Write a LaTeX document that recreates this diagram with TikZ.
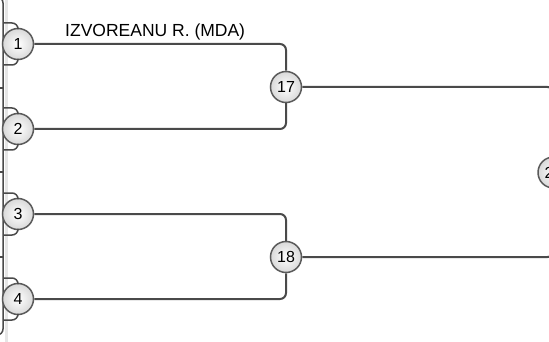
\documentclass[tikz,border=0pt]{standalone}
\usepackage{fontspec}
\setmainfont{Liberation Sans}
\usetikzlibrary{positioning}

\definecolor{wire}{HTML}{4A4A4A}
\definecolor{rim}{HTML}{5A5A5A}
\definecolor{band}{HTML}{E6E6E6}

\tikzset{
  seed/.style={circle, draw=rim, line width=1.5pt, minimum size=31pt, inner sep=0pt,
    inner color=white, outer color=gray!30, font=\fontsize{16}{16}\selectfont},
  wire/.style={draw=wire, line width=2pt, rounded corners=6pt},
  lbl/.style={font=\fontsize{17.5}{18}\selectfont, inner sep=0pt}
}

\begin{document}
\begin{tikzpicture}[x=1pt, y=-1pt]

    % --- Page frame ---
    \useasboundingbox (0,0) rectangle (549,342);
    \clip (0,0) rectangle (549,342);

    % Left strip of the previous column
    \fill[band] (5,0) rectangle (8,342);
    \draw[wire, line width=1.5pt] (-4,-3) -- (3,-3) -- (3,335) -- (-4,335);
    \draw[wire, line width=1.2pt] (0,88) -- (3,88);
    \draw[wire, line width=1.2pt] (0,172) -- (3,172);
    \draw[wire, line width=1.2pt] (0,257) -- (3,257);

    % --- Define Coordinates ---
    % First round (left column)
    \node[seed] (r1) at (18,44) {1};
    \node[seed] (r2) at (18,129) {2};
    \node[seed] (r3) at (18,214) {3};
    \node[seed] (r4) at (18,299) {4};

    % Second round
    \node[seed] (q17) at (286,87) {17};
    \node[seed] (q18) at (286,257) {18};

    % Third round (cut by the right edge)
    \node[seed] (q25) at (553.5,172.5) {2\phantom{5}};

    % Ends of the earlier connectors at the left edge
    \foreach \i in {1,...,4} {
        \coordinate (up\i) at ([yshift=21pt]r\i.center -| 3,0);
        \coordinate (dn\i) at ([yshift=-21pt]r\i.center -| 3,0);
    }

    % --- Draw Connectors ---
    \foreach \i in {1,...,4} {
        \draw[wire, line width=1.5pt] (up\i) -| (r\i.north);
        \draw[wire, line width=1.5pt] (dn\i) -| (r\i.south);
    }

    % Pairs into round two
    \draw[wire] (r1.east) -| (q17.north);
    \draw[wire] (r2.east) -| (q17.south);
    \draw[wire] (r3.east) -| (q18.north);
    \draw[wire] (r4.east) -| (q18.south);

    % Round two into round three
    \draw[wire] (q17.east) -| (q25.north);
    \draw[wire] (q18.east) -| (q25.south);

    % --- Labels ---
    \node[lbl, anchor=base west] (name1) at (65,37) {IZVOREANU R. (MDA)};

\end{tikzpicture}
\end{document}
